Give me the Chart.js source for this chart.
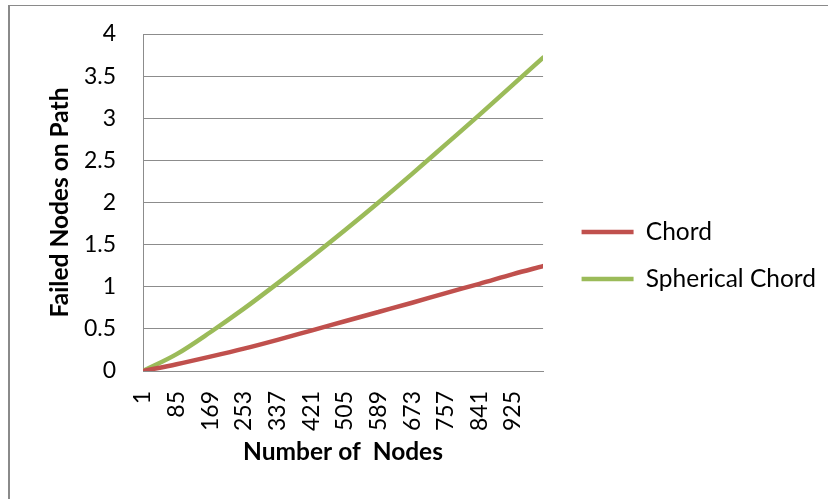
<!DOCTYPE html>
<html>
<head>
<meta charset="utf-8">
<script src="https://cdn.jsdelivr.net/npm/chart.js@4"></script>
<style>
  html, body { margin: 0; padding: 0; background: #fff; overflow: hidden; }
  #wrap { position: relative; width: 828px; height: 499px; }
  #frame { position: absolute; left: 8px; top: 5px; width: 900px; height: 600px;
           border-left: 2px solid #8a8a8a; border-top: 1px solid #8a8a8a; }
  canvas { position: absolute; left: 0; top: 0; }
</style>
</head>
<body>
<div id="wrap">
  <div id="frame"></div>
  <canvas id="chart" width="828" height="499"></canvas>
</div>
<script>
// number of nodes (x positions of the sampled points)
const nodes = [1, 85, 169, 253, 337, 421, 505, 589, 673, 757, 841, 925, 1000];
// tick labels shown on the category axis
const xTicks = [1, 85, 169, 253, 337, 421, 505, 589, 673, 757, 841, 925];
const yTicks = [0, 0.5, 1, 1.5, 2, 2.5, 3, 3.5, 4];

const chord = [0, 0.08, 0.17, 0.265, 0.37, 0.48, 0.59, 0.70, 0.81, 0.925, 1.035, 1.15, 1.245];
const spherical = [0, 0.2, 0.46, 0.74, 1.04, 1.35, 1.67, 2.0, 2.34, 2.69, 3.04, 3.4, 3.72];

const FONT = 'Lato';
const gridColor = '#8c8c8c';

const toPoints = vals => nodes.map((n, i) => ({ x: n, y: vals[i] }));

new Chart(document.getElementById('chart'), {
  type: 'line',
  data: {
    datasets: [{
      label: 'Chord',
      data: toPoints(chord),
      borderColor: '#c0504d',
      backgroundColor: '#c0504d',
      borderWidth: 4.5,
      borderCapStyle: 'round',
      pointRadius: 0,
      cubicInterpolationMode: 'monotone'
    }, {
      label: 'Spherical Chord',
      data: toPoints(spherical),
      borderColor: '#9bbb59',
      backgroundColor: '#9bbb59',
      borderWidth: 4.5,
      borderCapStyle: 'round',
      pointRadius: 0,
      cubicInterpolationMode: 'monotone'
    }]
  },
  options: {
    responsive: false,
    animation: false,
    layout: { padding: { top: 34, right: 2, bottom: 22, left: 0 } },
    plugins: {
      tooltip: { enabled: false },
      legend: {
        position: 'right',
        align: 'center',
        maxWidth: 320,
        labels: {
          usePointStyle: true,
          pointStyle: 'line',
          pointStyleWidth: 52,
          padding: 22.5,
          color: '#000',
          font: { family: FONT, size: 24.5 }
        }
      }
    },
    scales: {
      x: {
        type: 'linear',
        min: 1,
        max: 1000,
        afterBuildTicks: s => { s.ticks = xTicks.map(v => ({ value: v })); },
        afterFit: s => { s.height = 106; },
        grid: { display: false },
        border: { display: true, color: gridColor, width: 1 },
        ticks: {
          autoSkip: false,
          minRotation: 90,
          maxRotation: 90,
          padding: 12,
          color: '#000',
          font: { family: FONT, size: 23 },
          callback: v => String(v)
        },
        title: {
          display: true,
          text: 'Number of  Nodes',
          color: '#000',
          font: { family: FONT, size: 24.5, weight: 'bold' },
          padding: { top: 0, bottom: 10 }
        }
      },
      y: {
        min: 0,
        max: 4,
        afterBuildTicks: s => { s.ticks = yTicks.map(v => ({ value: v })); },
        afterFit: s => { s.width = 143; s.paddingTop = 0; s.paddingBottom = 0; },
        grid: { color: gridColor, lineWidth: 1, drawTicks: false },
        border: { display: true, color: gridColor, width: 1 },
        ticks: {
          padding: 27,
          color: '#000',
          font: { family: FONT, size: 23 },
          callback: v => String(v)
        },
        title: {
          display: true,
          text: 'Failed Nodes on Path',
          color: '#000',
          font: { family: FONT, size: 24.5, weight: 'bold' },
          padding: { top: 45, bottom: 0 }
        }
      },
      gap: {
        position: 'right',
        display: true,
        grid: { display: false },
        border: { display: false },
        ticks: { display: false },
        afterFit: s => { s.width = 16; }
      }
    }
  }
});
</script>
</body>
</html>
